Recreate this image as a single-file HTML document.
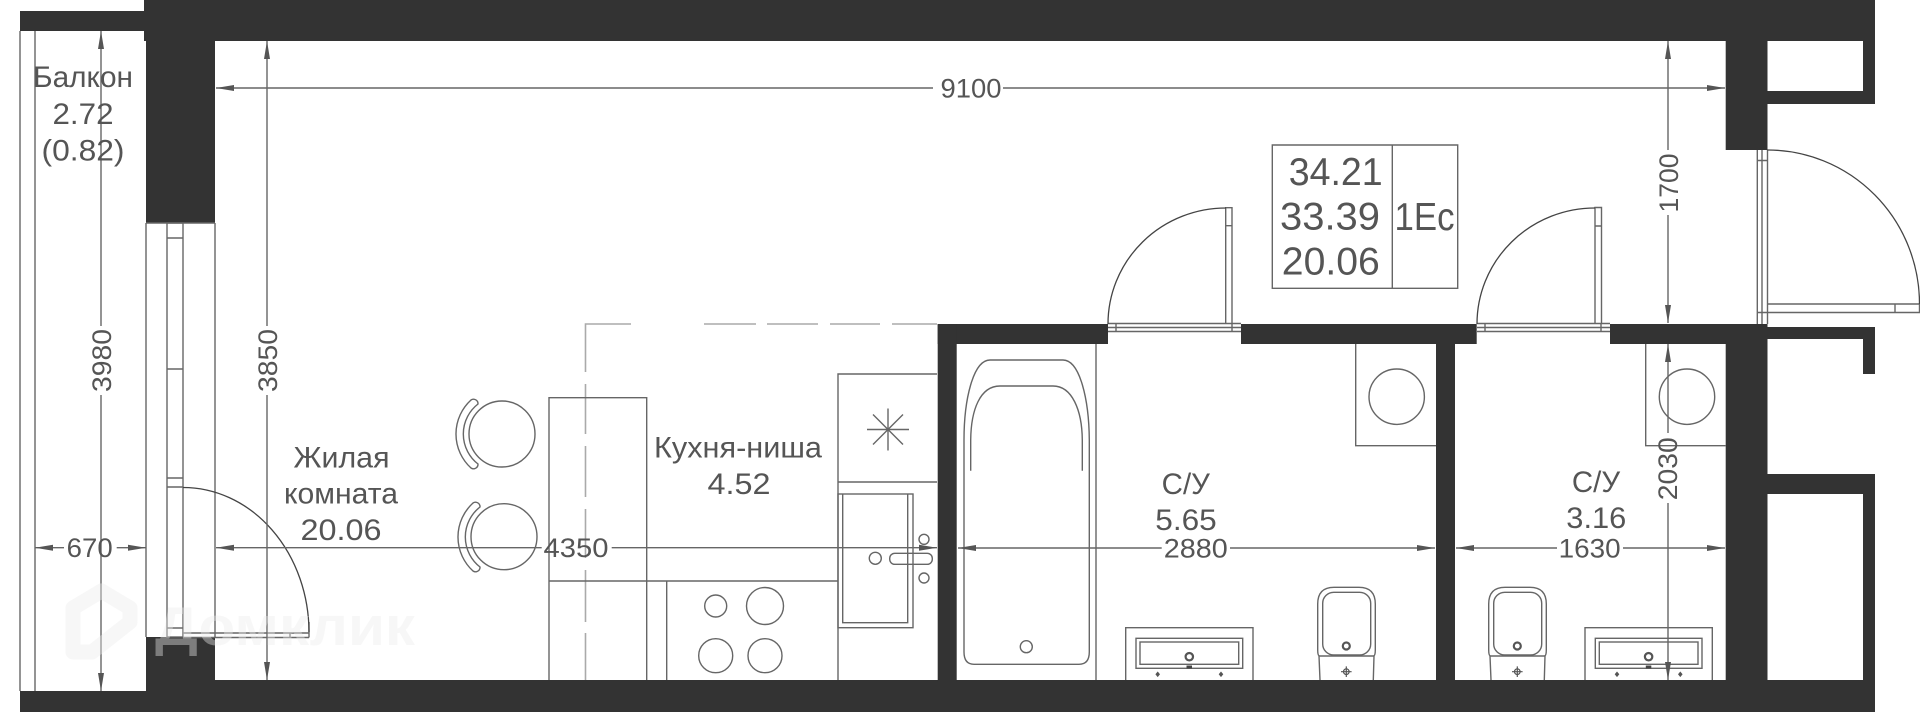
<!DOCTYPE html>
<html><head><meta charset="utf-8"><style>
html,body{margin:0;padding:0;background:#fff;width:1920px;height:712px;overflow:hidden}
svg{display:block}
text{font-family:"Liberation Sans","DejaVu Sans",sans-serif;fill:#555;text-anchor:middle;lengthAdjust:spacingAndGlyphs}
.l{font-size:29.5px}.d{font-size:27px}.a{font-size:38.5px}
.w{fill:#333;stroke:none}
.t{fill:none;stroke:#666;stroke-width:1.4}
.b{fill:none;stroke:#444;stroke-width:1.3}
.m{stroke:#666;stroke-width:1.4;fill:none}
.h{fill:#555;stroke:none}
</style></head><body>
<svg width="1920" height="712" viewBox="0 0 1920 712" xmlns="http://www.w3.org/2000/svg">
<!-- walls -->
<g class="w">
<rect x="144" y="0" width="1731" height="41"/>
<rect x="20" y="11" width="126" height="20"/>
<rect x="146" y="41" width="69" height="182"/>
<rect x="146" y="637" width="69" height="45"/>
<rect x="20" y="691" width="128" height="21"/>
<rect x="146" y="680" width="1729" height="32"/>
<rect x="937.7" y="324" width="170.3" height="20"/>
<rect x="937.7" y="324" width="19" height="358"/>
<rect x="1241" y="324" width="235.7" height="20"/>
<rect x="1436" y="344" width="19" height="338"/>
<rect x="1610" y="324" width="157.5" height="20"/>
<rect x="1725.7" y="340" width="41.8" height="342"/>
<rect x="1725.7" y="41" width="41.8" height="109"/>
<rect x="1767" y="91" width="108" height="13"/>
<rect x="1863" y="41" width="12" height="63"/>
<rect x="1767" y="327" width="108" height="12"/>
<rect x="1863" y="327" width="12" height="47"/>
<rect x="1767" y="474" width="108" height="20"/>
<rect x="1863" y="474" width="12" height="238"/>
</g>
<!-- balcony -->
<g class="t">
<path d="M20 31V691M35 31V691"/>
<!-- window -->
<path d="M146 223V637M215 223V637M146 223H215"/>
<rect x="167" y="223" width="16" height="414"/>
<path d="M167 238H183M167 369H183M167 478H183M167 487H183M167 628H183"/>
<path d="M183 633H309M183 637.5H309M290 633V637.5M309 622V637.5"/>
</g>
<path class="b" d="M183 487.5A126 145 0 0 1 309 632"/>
<!-- chairs + table -->
<g class="t">
<circle cx="502" cy="434" r="33"/>
<circle cx="504" cy="536.7" r="33"/>
<path d="M471 400A46 46 0 0 0 471 468A4.5 4.5 0 0 0 478 464A38 38 0 0 1 478 404A4.5 4.5 0 0 0 471 400Z"/>
<path transform="translate(2 103)" d="M471 400A46 46 0 0 0 471 468A4.5 4.5 0 0 0 478 464A38 38 0 0 1 478 404A4.5 4.5 0 0 0 471 400Z"/>
</g>
<!-- dashed kitchen zone -->
<path d="M585.5 372V324H631M704 324H756M767 324H818M830 324H880M892 324H937M585.5 384V434M585.5 446V497M585.5 509V558M585.5 570V622M585.5 633V680" fill="none" stroke="#aaa" stroke-width="1.6"/>
<!-- kitchen -->
<g class="t">
<path d="M549 680V397.7H646.7V680M549 581H838M666.7 581V680M838 680V374H937M838 482H937"/>
<path d="M888 408.5V450.5M867 429.5H909M873 414.5L903 444.5M903 414.5L873 444.5"/>
<rect x="838" y="494" width="75" height="133.7"/>
<path d="M842.7 494V622.7H907.7V494"/>
<circle cx="875.3" cy="558.3" r="6"/>
<circle cx="924" cy="539.3" r="5"/>
<circle cx="924" cy="578" r="5"/>
<rect x="889.7" y="553.3" width="42.6" height="11" rx="5"/>
<circle cx="715.7" cy="606" r="11"/>
<circle cx="765" cy="606" r="18.5"/>
<circle cx="715.7" cy="655.7" r="17"/>
<circle cx="765" cy="655.7" r="17"/>
</g>
<!-- bath -->
<g class="t">
<path d="M1096 344V680"/>
<path d="M990 360H1063C1080 360 1089 400 1089.3 440V652Q1089.3 664.3 1079 664.3H974Q964 664.3 964 652V440C964 400 973 360 990 360Z"/>
<path d="M970.7 470.7V440C971 410 980 386 1000 386H1053C1072 386 1082 410 1082.3 440V470.7"/>
<circle cx="1026.3" cy="646.7" r="6"/>
<path d="M1355.7 344V445.7H1436"/>
<circle cx="1396.7" cy="396.7" r="27.7"/>
<path d="M1645.7 344V445.7H1725.7"/>
<circle cx="1687" cy="396.7" r="27.7"/>
</g>
<!-- sinks + toilets -->
<g>
<path class="t" d="M1125.7 680V627.7H1253V680"/>
<rect class="t" x="1136" y="638.3" width="106.7" height="30"/>
<rect class="t" x="1140" y="642" width="98.7" height="22.3"/>
<circle cx="1189.3" cy="656.7" r="3.7" fill="none" stroke="#555" stroke-width="2.2"/>
<rect x="1186.5" y="665.5" width="5.5" height="3" fill="#444"/>
<path d="M1157.7 671.5L1160 674.3L1157.7 677.1L1155.4 674.3ZM1221 671.5L1223.3 674.3L1221 677.1L1218.7 674.3Z" fill="#555"/>
</g>
<g transform="translate(459.3 0)">
<path class="t" d="M1125.7 680V627.7H1253V680"/>
<rect class="t" x="1136" y="638.3" width="106.7" height="30"/>
<rect class="t" x="1140" y="642" width="98.7" height="22.3"/>
<circle cx="1189.3" cy="656.7" r="3.7" fill="none" stroke="#555" stroke-width="2.2"/>
<rect x="1186.5" y="665.5" width="5.5" height="3" fill="#444"/>
<path d="M1157.7 671.5L1160 674.3L1157.7 677.1L1155.4 674.3ZM1221 671.5L1223.3 674.3L1221 677.1L1218.7 674.3Z" fill="#555"/>
</g>
<g>
<path class="t" d="M1317.7 650V604Q1317.7 587.3 1334 587.3H1359Q1375.3 587.3 1375.3 604V650Q1375.3 655.7 1373.5 656H1319.5Q1317.7 655.7 1317.7 650Z"/>
<rect class="t" x="1322.7" y="592.3" width="48" height="62.7" rx="11"/>
<path class="t" d="M1319 656L1320 680M1374 656L1373.3 680"/>
<circle cx="1346.3" cy="646" r="3.5" fill="none" stroke="#555" stroke-width="2.2"/>
<circle cx="1346.3" cy="671.7" r="2.8" fill="none" stroke="#555" stroke-width="1.2"/>
<path d="M1341 671.7H1351.6M1346.3 666.4V677" stroke="#555" stroke-width="1.2"/>
</g>
<g transform="translate(171 0)">
<path class="t" d="M1317.7 650V604Q1317.7 587.3 1334 587.3H1359Q1375.3 587.3 1375.3 604V650Q1375.3 655.7 1373.5 656H1319.5Q1317.7 655.7 1317.7 650Z"/>
<rect class="t" x="1322.7" y="592.3" width="48" height="62.7" rx="11"/>
<path class="t" d="M1319 656L1320 680M1374 656L1373.3 680"/>
<circle cx="1346.3" cy="646" r="3.5" fill="none" stroke="#555" stroke-width="2.2"/>
<circle cx="1346.3" cy="671.7" r="2.8" fill="none" stroke="#555" stroke-width="1.2"/>
<path d="M1341 671.7H1351.6M1346.3 666.4V677" stroke="#555" stroke-width="1.2"/>
</g>
<!-- doors -->
<g class="t">
<path d="M1108 323.5H1241M1108 327.5H1241M1108 331.5H1241M1116 323.5V331.5M1232 323.5V331.5"/>
<path d="M1225.7 323.5V207.7H1232V323.5M1225.7 225.7H1232"/>
<path d="M1477 323.5H1610M1477 327.5H1610M1477 331.5H1610M1485 323.5V331.5M1601 323.5V331.5"/>
<path d="M1595 323.5V207.5H1601.5V323.5M1595 226H1601.5"/>
<path d="M1757.3 150V324M1762 150V324M1767.5 150V324M1757.3 160.5H1767.5M1757.3 312.5H1767.5"/>
<path d="M1767.5 304H1919.5V312.5H1767.5M1895 304V312.5"/>
</g>
<path class="b" d="M1108 324A118 116 0 0 1 1226 208"/>
<path class="b" d="M1477 324A118 116 0 0 1 1595 208"/>
<path class="b" d="M1767.5 150A152 154 0 0 1 1919.5 304"/>
<!-- area table -->
<path class="t" d="M1272.3 145H1457.7V288.3H1272.3ZM1392.3 145V288.3"/>
<text class="a" x="1335.7" y="185" textLength="94" lengthAdjust="spacingAndGlyphs">34.21</text>
<text class="a" x="1330" y="229.5" textLength="100" lengthAdjust="spacingAndGlyphs">33.39</text>
<text class="a" x="1330.8" y="274.5" textLength="98" lengthAdjust="spacingAndGlyphs">20.06</text>
<text class="a" x="1424.5" y="230" textLength="60" lengthAdjust="spacingAndGlyphs">1Ec</text>
<!-- dimension lines -->
<g class="m">
<path d="M216 88H933M1003 88H1725"/>
<path d="M101 31V326M101 395V691"/>
<path d="M267 41V326M267 395V680"/>
<path d="M35 547.7H64M116.7 547.7H146"/>
<path d="M216 547.7H541.7M611.7 547.7H937"/>
<path d="M958 548H1161.7M1230 548H1435"/>
<path d="M1456 548H1557M1623 548H1725"/>
<path d="M1668 41V150M1668 215V323"/>
<path d="M1668 344V433M1668 503V680"/>
</g>
<g class="h">
<polygon points="216,88 234,85 234,91"/><polygon points="1725,88 1707,85 1707,91"/>
<polygon points="101,31 98,49 104,49"/><polygon points="101,691 98,673 104,673"/>
<polygon points="267,41 264,59 270,59"/><polygon points="267,680 264,662 270,662"/>
<polygon points="35,547.7 53,544.7 53,550.7"/><polygon points="146,547.7 128,544.7 128,550.7"/>
<polygon points="216,547.7 234,544.7 234,550.7"/><polygon points="937,547.7 919,544.7 919,550.7"/>
<polygon points="958,548 976,545 976,551"/><polygon points="1435,548 1417,545 1417,551"/>
<polygon points="1456,548 1474,545 1474,551"/><polygon points="1725,548 1707,545 1707,551"/>
<polygon points="1668,41 1665,59 1671,59"/><polygon points="1668,323 1665,305 1671,305"/>
<polygon points="1668,344 1665,362 1671,362"/><polygon points="1668,680 1665,662 1671,662"/>
</g>
<!-- dimension text -->
<text class="d" x="971" y="97.5" textLength="61" lengthAdjust="spacingAndGlyphs">9100</text>
<text class="d" x="89.7" y="557" textLength="46" lengthAdjust="spacingAndGlyphs">670</text>
<text class="d" x="576" y="557" textLength="65" lengthAdjust="spacingAndGlyphs">4350</text>
<text class="d" x="1195.8" y="557.3" textLength="64" lengthAdjust="spacingAndGlyphs">2880</text>
<text class="d" x="1589.7" y="557.3" textLength="62" lengthAdjust="spacingAndGlyphs">1630</text>
<text class="d" transform="translate(111 360.5) rotate(-90)" textLength="63" lengthAdjust="spacingAndGlyphs">3980</text>
<text class="d" transform="translate(277 360.5) rotate(-90)" textLength="63" lengthAdjust="spacingAndGlyphs">3850</text>
<text class="d" transform="translate(1678 183) rotate(-90)" textLength="59" lengthAdjust="spacingAndGlyphs">1700</text>
<text class="d" transform="translate(1677 468.7) rotate(-90)" textLength="63" lengthAdjust="spacingAndGlyphs">2030</text>
<!-- room labels -->
<text class="l" x="83" y="87" textLength="100" lengthAdjust="spacingAndGlyphs">Балкон</text>
<text class="l" x="83" y="124" textLength="61" lengthAdjust="spacingAndGlyphs">2.72</text>
<text class="l" x="83" y="160.7" textLength="83" lengthAdjust="spacingAndGlyphs">(0.82)</text>
<text class="l" x="341.5" y="467.7" textLength="96" lengthAdjust="spacingAndGlyphs">Жилая</text>
<text class="l" x="341" y="503.7" textLength="114" lengthAdjust="spacingAndGlyphs">комната</text>
<text class="l" x="341" y="540" textLength="81" lengthAdjust="spacingAndGlyphs">20.06</text>
<text class="l" x="738" y="457.7" textLength="168" lengthAdjust="spacingAndGlyphs">Кухня-ниша</text>
<text class="l" x="739" y="494" textLength="63" lengthAdjust="spacingAndGlyphs">4.52</text>
<text class="l" x="1185.8" y="494">С/У</text>
<text class="l" x="1186" y="530" textLength="61.5" lengthAdjust="spacingAndGlyphs">5.65</text>
<text class="l" x="1596" y="492">С/У</text>
<text class="l" x="1596.3" y="528" textLength="60" lengthAdjust="spacingAndGlyphs">3.16</text>
<!-- watermark -->
<g opacity=".4">
<path d="M130 620V608L101.5 591L73 608V652H92L130 622" fill="none" stroke="#ececec" stroke-width="15" stroke-linejoin="round" stroke-linecap="round"/>
<text x="155" y="645" style="font-size:55px;font-weight:bold;fill:#ececec;text-anchor:start" textLength="260" lengthAdjust="spacingAndGlyphs">Домклик</text>
</g>
</svg>
</body></html>
